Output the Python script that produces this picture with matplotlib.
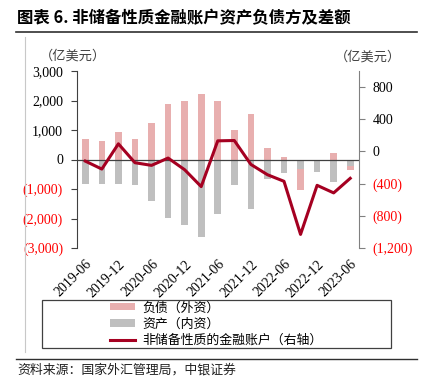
import numpy as np
import matplotlib
matplotlib.use("Agg")
import matplotlib.pyplot as plt
from matplotlib.patches import Rectangle, Patch
from matplotlib.lines import Line2D
from matplotlib.ticker import FuncFormatter

CJK = ['Noto Sans CJK SC', 'DejaVu Sans']
plt.rcParams['font.family'] = CJK

# quarterly data, 100 million USD
quarters = ["2019-06", "2019-09", "2019-12", "2020-03", "2020-06", "2020-09",
            "2020-12", "2021-03", "2021-06", "2021-09", "2021-12", "2022-03",
            "2022-06", "2022-09", "2022-12", "2023-03", "2023-06"]
liabilities = [709, 619, 934, 709, 1249, 1890, 1968, 2216, 1991, 990, 1552,
               394, 79, -710, 0, 214, -146]
assets = [-844, -844, -821, -866, -1417, -1968, -2216, -2643, -1856, -855,
          -1676, -675, -450, -320, -416, -770, -214]
net_account = [-120, -219, 95, -140, -173, -82, -227, -437, 132, 136, -161,
               -289, -371, -1031, -421, -515, -334]

PINK = "#E8AFAF"
GRAY = "#BFBFBF"
DARKRED = "#A50021"
NEGRED = "#FF0000"

W, H = 433, 391
fig = plt.figure(figsize=(W / 100, H / 100), dpi=100)

def fx(px):
    return px / W

def fy(py):
    return 1 - py / H

ax = fig.add_axes([fx(77), fy(248), fx(358.5) - fx(77), fy(71) - fy(248)])
ax2 = ax.twinx()

x = np.arange(len(quarters))
liab = np.array(liabilities)
ast = np.array(assets)
bottom = np.where(liab < 0, ast, 0)

ax.bar(x, ast, width=0.4, color=GRAY, zorder=2)
ax.bar(x, liab, width=0.4, bottom=bottom, color=PINK, zorder=2)
ax.axhline(0, color="#404040", lw=0.9, zorder=3)
ax2.plot(x, net_account, color=DARKRED, lw=2.2, zorder=4)

ax.set_zorder(ax2.get_zorder() - 1)
ax.patch.set_visible(False)

ax.set_xlim(-0.5, len(quarters) - 0.5)
ax.set_ylim(-3000, 3000)
ax.set_yticks(np.arange(-3000, 3001, 1000))
ax2.set_ylim(-1200, 1000)
ax2.set_yticks(np.arange(-1200, 801, 400))

def paren_fmt(v, pos):
    if v < 0:
        return "({:,.0f})".format(-v)
    return "{:,.0f}".format(v)

ax.yaxis.set_major_formatter(FuncFormatter(paren_fmt))
ax2.yaxis.set_major_formatter(FuncFormatter(paren_fmt))

for a in (ax, ax2):
    for s in ("top", "bottom"):
        a.spines[s].set_visible(False)
ax.spines["right"].set_visible(False)
ax2.spines["left"].set_visible(False)
ax.spines["left"].set_color("#404040")
ax2.spines["right"].set_color("#808080")

ax.tick_params(axis="y", direction="out", length=4, width=0.8, color="#404040",
               pad=6, labelsize=10)
ax2.tick_params(axis="y", direction="out", length=4, width=0.8, color="#808080",
                pad=6, labelsize=10)

for a in (ax, ax2):
    for lab, v in zip(a.get_yticklabels(), a.get_yticks()):
        lab.set_fontfamily("Liberation Serif")
        lab.set_color(NEGRED if v < 0 else "#000000")

ax.set_xticks(x[::2])
ax.set_xticklabels(quarters[::2], rotation=45, ha="right", va="top",
                   rotation_mode="anchor", fontfamily="Liberation Serif", fontsize=10)
ax.tick_params(axis="x", length=0, pad=7)

# unit labels
fig.text(fx(73), fy(56), "（亿美元）", fontsize=9.5, ha="center", va="center", color="#404040")
fig.text(fx(368), fy(57), "（亿美元）", fontsize=9.5, ha="center", va="center", color="#404040")

# title and rules
fig.text(fx(17), fy(18), "图表 6. 非储备性质金融账户资产负债方及差额", fontsize=11.8,
         fontweight="bold", ha="left", va="center")
fig.add_artist(Line2D([fx(16), fx(417)], [fy(32), fy(32)], color="#303030", lw=1.2))
fig.add_artist(Line2D([fx(16), fx(417)], [fy(359), fy(359)], color="#303030", lw=1.0))
fig.add_artist(Line2D([fx(25), fx(25)], [fy(37), fy(352)], color="#C8C8C8", lw=0.8))
fig.text(fx(17), fy(370), "资料来源：国家外汇管理局，中银证券", fontsize=9.3,
         style="italic", ha="left", va="center", color="#202020")

# legend
handles = [Patch(facecolor=PINK, edgecolor="none"),
           Patch(facecolor=GRAY, edgecolor="none"),
           Line2D([0], [0], color=DARKRED, lw=2.2)]
labels = ["负债（外资）", "资产（内资）", "非储备性质的金融账户（右轴）"]
fig.legend(handles, labels, loc="center", bbox_to_anchor=(fx(216.5), fy(324)),
           frameon=False, fontsize=9.3, handlelength=1.9, handleheight=0.5,
           labelspacing=0.25, handletextpad=0.6, borderpad=0.2)
fig.add_artist(Rectangle((fx(42), fy(348)), fx(391) - fx(42), fy(300) - fy(348),
                         fill=False, edgecolor="#404040", lw=0.9))

fig.savefig("out.png", dpi=100)
